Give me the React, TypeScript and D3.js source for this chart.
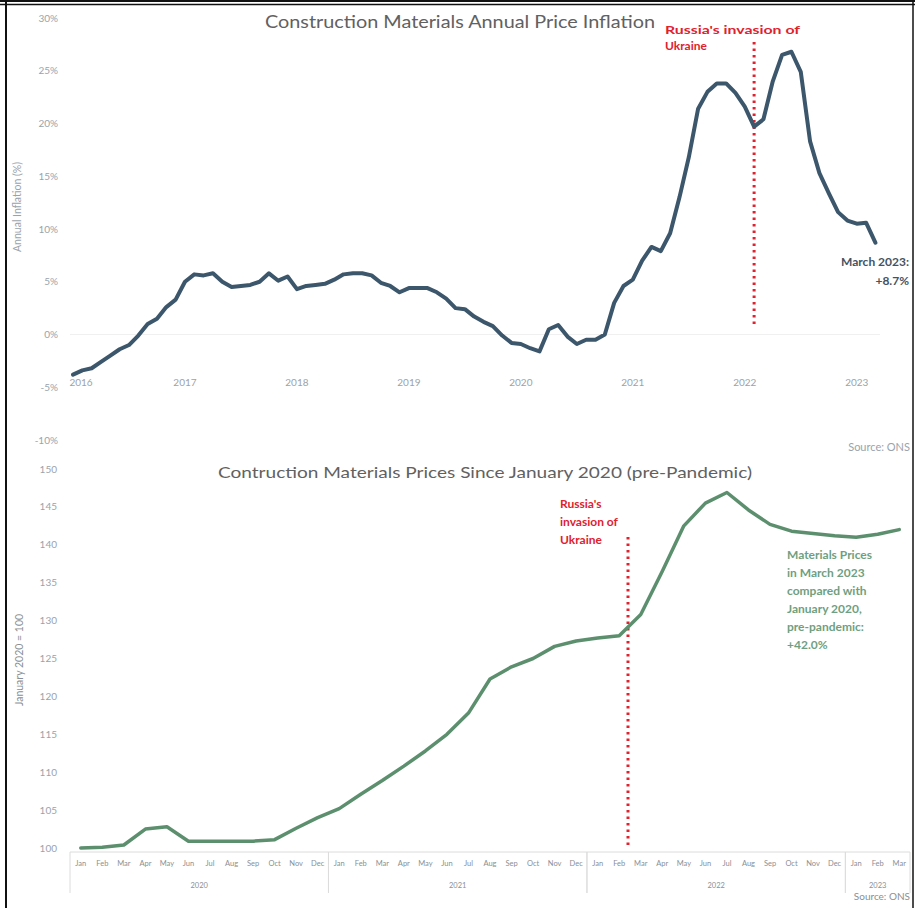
import React from "react";
import * as d3 from "d3";

// ---- Data ----
const inflationYears = ["2016", "2017", "2018", "2019", "2020", "2021", "2022", "2023"];
// Monthly annual inflation (%), Jan 2016 - Mar 2023
const inflationValues = [
  -3.8, -3.4, -3.2, -2.6, -2.0, -1.4, -1.0, -0.1, 1.0, 1.5, 2.6, 3.3,
  5.0, 5.7, 5.6, 5.8, 5.0, 4.5, 4.6, 4.7, 5.0, 5.8, 5.1, 5.5,
  4.3, 4.6, 4.7, 4.8, 5.2, 5.7, 5.8, 5.8, 5.6, 4.9, 4.6, 4.0,
  4.4, 4.4, 4.4, 4.0, 3.4, 2.5, 2.4, 1.7, 1.2, 0.8, -0.1, -0.8,
  -0.9, -1.3, -1.6, 0.5, 0.9, -0.2, -0.9, -0.5, -0.5, 0.0, 3.0, 4.6,
  5.2, 7.0, 8.3, 7.9, 9.6, 13.0, 16.8, 21.4, 23.0, 23.8, 23.8, 22.9,
  21.6, 19.7, 20.4, 24.0, 26.5, 26.8, 24.9, 18.3, 15.3, 13.4, 11.6, 10.8,
  10.5, 10.6, 8.7,
];
const inflationTicks = [30, 25, 20, 15, 10, 5, 0, -5, -10];

const monthNames = ["Jan", "Feb", "Mar", "Apr", "May", "Jun", "Jul", "Aug", "Sep", "Oct", "Nov", "Dec"];
const priceYears = ["2020", "2021", "2022", "2023"];
// Index, January 2020 = 100, Jan 2020 - Mar 2023
const priceValues = [
  100.0, 100.1, 100.4, 102.5, 102.8, 100.9, 100.9, 100.9, 100.9, 101.1, 102.6, 104.0,
  105.2, 107.1, 108.9, 110.8, 112.8, 115.0, 117.8, 122.3, 123.9, 125.0, 126.6, 127.3,
  127.7, 128.0, 130.8, 136.5, 142.5, 145.5, 146.9, 144.6, 142.7, 141.8, 141.5, 141.2,
  141.0, 141.4, 142.0,
];
const priceTicks = [150, 145, 140, 135, 130, 125, 120, 115, 110, 105, 100];

const FONT = "Lato, 'Open Sans', sans-serif";
const TOP_LINE = "#3c566b";
const GREEN = "#5c8f6d";
const RED = "#e0212e";
const TICK = "#9aa3ab";

export default function App() {
  // ---- Top chart scales ----
  const xTop = d3.scaleLinear().domain([0, 86]).range([73, 875.4]);
  const yTop = d3.scaleLinear().domain([-10, 30]).range([440, 18]);
  const topLine = d3
    .line<number>()
    .x((_, i) => xTop(i))
    .y((d) => yTop(d))
    .curve(d3.curveLinear);

  // ---- Bottom chart scales ----
  const priceKeys = priceValues.map((_, i) => String(i));
  const xBot = d3.scaleBand().domain(priceKeys).range([70, 910]).padding(0);
  const bw = xBot.bandwidth();
  const yBot = d3.scaleLinear().domain([100, 150]).range([848, 469]);
  const botLine = d3
    .line<number>()
    .x((_, i) => (xBot(String(i)) as number) + bw / 2)
    .y((d) => yBot(d));

  const invasionTopX = xTop(73);
  const invasionBotX = (xBot("26") as number) - 2;

  const yearGroups = priceYears.map((yr, k) => {
    const start = k * 12;
    const end = Math.min(start + 12, priceValues.length);
    const x0 = xBot(String(start)) as number;
    const x1 = (xBot(String(end - 1)) as number) + bw;
    return { yr, x0, x1 };
  });

  const greenNote = [
    "Materials Prices",
    "in March 2023",
    "compared with",
    "January 2020,",
    "pre-pandemic:",
    " +42.0%",
  ];

  return (
    <svg
      width={915}
      height={908}
      style={{ position: "absolute", left: 0, top: 0, background: "#fff" }}
      fontFamily={FONT}
    >
      <rect x={0} y={0} width={915} height={908} fill="#fff" />
      {/* frame */}
      <line x1={0} x2={915} y1={1} y2={1} stroke="#111" strokeWidth={2} />
      <line x1={0} x2={915} y1={4.5} y2={4.5} stroke="#111" strokeWidth={1.5} />
      <line x1={6} x2={6} y1={0} y2={908} stroke="#111" strokeWidth={2} />
      <line x1={913} x2={913} y1={0} y2={908} stroke="#111" strokeWidth={1.5} />

      {/* ===== TOP CHART ===== */}
      <line x1={70} x2={880} y1={yTop(0)} y2={yTop(0)} stroke="#f0f0f0" strokeWidth={1} />
      {inflationTicks.map((t) => (
        <text
          key={t}
          x={58}
          y={yTop(t)}
          dy="0.35em"
          textAnchor="end"
          fontSize={10}
          fill={TICK}
        >
          {t}%
        </text>
      ))}
      <text
        transform={`translate(21,207) rotate(-90)`}
        textAnchor="middle"
        fontSize={10.5}
        fill={TICK}
      >
        Annual Inflation (%)
      </text>
      {inflationYears.map((yr, k) => (
        <text
          key={yr}
          x={xTop(k * 12) + (k === 0 ? 8 : 0)}
          y={386}
          textAnchor="middle"
          fontSize={10}
          fill={TICK}
        >
          {yr}
        </text>
      ))}
      <text x={460} y={28} textAnchor="middle" fontSize={17} fill="#616161" textLength={390} lengthAdjust="spacingAndGlyphs">
        Construction Materials Annual Price Inflation
      </text>
      <line
        x1={invasionTopX}
        x2={invasionTopX}
        y1={42}
        y2={328}
        stroke={RED}
        strokeWidth={3}
        strokeDasharray="2.5 4"
      />
      <path d={topLine(inflationValues) || ""} fill="none" stroke={TOP_LINE} strokeWidth={4} strokeLinejoin="round" strokeLinecap="round" />
      <text x={665} y={34} fontSize={12} fontWeight="bold" fill={RED} textLength={135} lengthAdjust="spacingAndGlyphs">
        Russia's invasion of
      </text>
      <text x={665} y={50} fontSize={12} fontWeight="bold" fill={RED}>
        Ukraine
      </text>
      <text x={909} y={266} textAnchor="end" fontSize={12} fontWeight="bold" fill="#46535f">
        March 2023:
      </text>
      <text x={909} y={285} textAnchor="end" fontSize={12} fontWeight="bold" fill="#46535f">
        +8.7%
      </text>
      <text x={910} y={451} textAnchor="end" fontSize={11} fill={TICK}>
        Source: ONS
      </text>

      {/* ===== BOTTOM CHART ===== */}
      {priceTicks.map((t) => (
        <text key={t} x={57} y={yBot(t)} dy="0.35em" textAnchor="end" fontSize={10} fill={TICK}>
          {t}
        </text>
      ))}
      <text
        transform={`translate(23,660) rotate(-90)`}
        textAnchor="middle"
        fontSize={10.5}
        fill="#8a8f94"
      >
        January 2020 = 100
      </text>
      <text x={485} y={478} textAnchor="middle" fontSize={16} fill="#616161" textLength={534} lengthAdjust="spacingAndGlyphs">
        Contruction Materials Prices Since January 2020 (pre-Pandemic)
      </text>
      {/* category axis */}
      <line x1={70} x2={910} y1={852} y2={852} stroke="#dcdcdc" strokeWidth={1} />
      {yearGroups.map((g) => (
        <g key={g.yr}>
          <line x1={g.x0} x2={g.x0} y1={852} y2={893} stroke="#dcdcdc" strokeWidth={1} />
          <line x1={g.x1} x2={g.x1} y1={852} y2={893} stroke="#dcdcdc" strokeWidth={1} />
          <text x={(g.x0 + g.x1) / 2} y={888} textAnchor="middle" fontSize={7.5} fill="#8a8f94">
            {g.yr}
          </text>
        </g>
      ))}
      {priceValues.map((_, i) => (
        <text
          key={i}
          x={(xBot(String(i)) as number) + bw / 2}
          y={866}
          textAnchor="middle"
          fontSize={7.5}
          fill="#8a8f94"
        >
          {monthNames[i % 12]}
        </text>
      ))}
      <line
        x1={invasionBotX}
        x2={invasionBotX}
        y1={537}
        y2={848}
        stroke={RED}
        strokeWidth={3}
        strokeDasharray="2.5 4"
      />
      <path d={botLine(priceValues) || ""} fill="none" stroke={GREEN} strokeWidth={3.5} strokeLinejoin="round" strokeLinecap="round" />
      {["Russia's", "invasion of", "Ukraine"].map((s, k) => (
        <text key={s} x={560} y={508 + k * 18} fontSize={12} fontWeight="bold" fill={RED}>
          {s}
        </text>
      ))}
      {greenNote.map((s, k) => (
        <text key={k} x={787} y={559 + k * 18} fontSize={12} fontWeight="bold" fill="#6f9f80">
          {s}
        </text>
      ))}
      <text x={910} y={900} textAnchor="end" fontSize={10} fill="#8a8f94">
        Source: ONS
      </text>
    </svg>
  );
}
